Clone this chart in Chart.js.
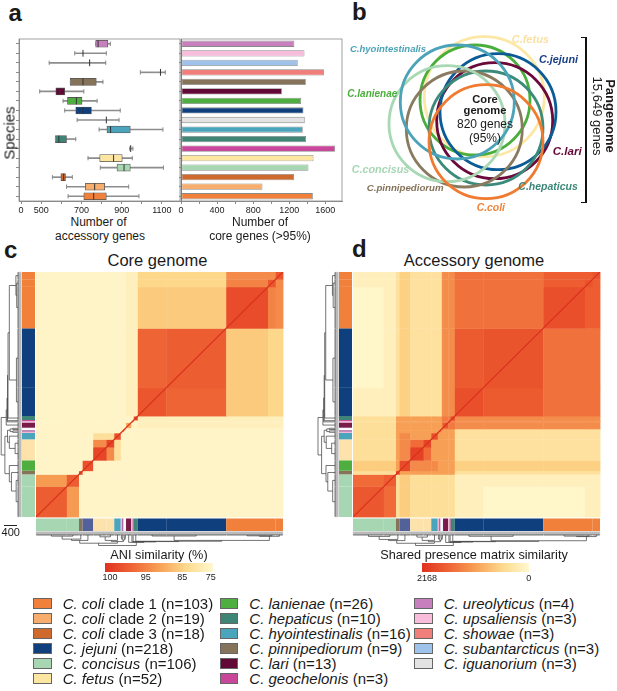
<!DOCTYPE html>
<html>
<head>
<meta charset="utf-8">
<title>Campylobacter pangenome</title>
<script src="https://cdn.jsdelivr.net/npm/chart.js@4.4.1/dist/chart.umd.min.js"></script>
<style>
  html, body { margin: 0; padding: 0; }
  body { width: 617px; height: 691px; position: relative; overflow: hidden; background: #fff;
         font-family: "Liberation Sans", Arial, sans-serif; color: #1a1a1a; }
  .pane { position: absolute; }
  .t { position: absolute; white-space: nowrap; line-height: 1; transform: translate(-50%, -50%); }
  .letter { position: absolute; font-weight: bold; font-size: 24px; line-height: 1; }
  .sp { position: absolute; font-weight: bold; font-style: italic; font-size: 10.3px; line-height: 1;
        white-space: nowrap; transform: translateY(-50%); }
  .leg { position: absolute; font-size: 15px; line-height: 1; white-space: nowrap; transform: translateY(-50%); }
  .sw { position: absolute; width: 16.3px; height: 9.7px; border: 1px solid #666; }
  .cbar { position: absolute; height: 9px; }
</style>
</head>
<body>

<div class="letter" style="left:8.5px;top:0.5px">a</div>
<div class="letter" style="left:352px;top:-0.5px">b</div>
<div class="letter" style="left:4px;top:238px">c</div>
<div class="letter" style="left:352px;top:236.5px">d</div>

<!-- panel a -->
<div class="pane" style="left:0;top:30px;width:181px;height:185px"><canvas id="accBox" width="181" height="185"></canvas></div>
<div class="pane" style="left:170px;top:30px;width:180px;height:185px"><canvas id="coreBars" width="180" height="185"></canvas></div>
<div class="t" style="left:9.2px;top:133px;font-size:15px;transform:translate(-50%,-50%) rotate(-90deg)">Species</div>
<div class="t" style="left:98.5px;top:222.3px;font-size:12px">Number of</div>
<div class="t" style="left:100px;top:235.8px;font-size:12px">accessory genes</div>
<div class="t" style="left:260px;top:222.3px;font-size:12px">Number of</div>
<div class="t" style="left:260px;top:235.8px;font-size:12px">core genes (&gt;95%)</div>

<!-- panel b -->
<div class="pane" style="left:340px;top:25px;width:250px;height:190px"><canvas id="venn" width="250" height="190"></canvas></div>
<div class="sp" style="left:350px;top:49.3px;font-size:9.5px;color:#4aa3b8">C.hyointestinalis</div>
<div class="sp" style="left:511.7px;top:39px;font-size:11px;color:#fbe0a0">C.fetus</div>
<div class="sp" style="left:539px;top:59px;font-size:10.8px;color:#163f86">C.jejuni</div>
<div class="sp" style="left:347.3px;top:94.3px;font-size:10px;color:#4aae3c">C.lanienae</div>
<div class="sp" style="left:552.7px;top:151px;font-size:11.6px;color:#650838">C.lari</div>
<div class="sp" style="left:351.7px;top:169.3px;font-size:10.8px;color:#a6d6b4">C.concisus</div>
<div class="sp" style="left:366.7px;top:188.3px;font-size:9.7px;color:#857358">C.pinnipediorum</div>
<div class="sp" style="left:518.3px;top:186.3px;font-size:10.5px;color:#3d8878">C.hepaticus</div>
<div class="sp" style="left:476.7px;top:207.7px;font-size:10.4px;color:#f0823a">C.coli</div>
<div class="t" style="left:485px;top:100px;font-size:11.2px;font-weight:bold">Core</div>
<div class="t" style="left:485px;top:110.8px;font-size:11.2px;font-weight:bold">genome</div>
<div class="t" style="left:485px;top:124.3px;font-size:12px">820 genes</div>
<div class="t" style="left:485px;top:138.3px;font-size:12px">(95%)</div>
<div class="pane" style="left:581px;top:37px;width:4px;height:164px;border:1.5px solid #111;border-left:none;border-right-width:2px"></div>
<div class="t" style="left:603px;top:116px;font-size:13px;line-height:12.5px;text-align:center;transform:translate(-50%,-50%) rotate(90deg)"><b>Pangenome</b><br>15,649 genes</div>

<!-- panels c, d -->
<div class="t" style="left:157.5px;top:260px;font-size:16.5px">Core genome</div>
<div class="t" style="left:474px;top:260px;font-size:16.5px">Accessory genome</div>
<div class="pane" style="left:0;top:265px;width:300px;height:290px"><canvas id="coreHeat" width="300" height="290"></canvas></div>
<div class="pane" style="left:300px;top:265px;width:317px;height:290px"><canvas id="accHeat" width="317" height="290"></canvas></div>
<div class="pane" style="left:4px;top:524.5px;width:12.7px;height:0;border-top:1.2px solid #222"></div>
<div class="t" style="left:10.8px;top:532px;font-size:11px">400</div>
<div class="t" style="left:159px;top:555px;font-size:12.7px">ANI similarity (%)</div>
<div class="t" style="left:474px;top:555px;font-size:12.7px">Shared presence matrix similarity</div>
<div class="cbar" id="aniBar" style="left:105px;top:562.7px;width:107.7px"></div>
<div class="cbar" id="sharedBar" style="left:422px;top:563px;width:106.7px"></div>
<div id="legend"></div>

<script>
// ---- panel a: per-species values, rows listed top to bottom ----
const species = ["C. ureolyticus", "C. upsaliensis", "C. subantarcticus", "C. showae", "C. pinnipediorum",
  "C. lari", "C. lanienae", "C. jejuni", "C. iguanorium", "C. hyointestinalis", "C. hepaticus",
  "C. geochelonis", "C. fetus", "C. concisus", "C. coli clade 3", "C. coli clade 2", "C. coli clade 1"];
const speciesColors = ["#c87fbd", "#f7bddb", "#9fc2ea", "#f07f7c", "#85735a", "#620836", "#4eae3f",
  "#0f3f7c", "#e3e3e3", "#4aa4bb", "#3e8575", "#c8479a", "#fde6a2", "#a6d7b2", "#cf6a2f", "#f6ad6e", "#f0803a"];
const coreGenes = [1257, 1369, 1294, 1585, 1384, 1119, 1331, 1358, 1372, 1350, 1387, 1708, 1469, 1413, 1253, 903, 1462];
const accMin    = [771, 667, 540, 993, 645, 493, 609, 617, 679, 788, 571, 940, 733, 794, 556, 626, 634];
const accQ1     = [771, null, null, null, 645, 573, 631, 672, null, 827, 571, null, 791, 877, 598, 720, 712];
const accMedian = [783, 708, 741, 1093, 708, 590, 675, 708, 824, 845, 588, 945, 860, 912, 612, 766, 761];
const accQ3     = [832, null, null, null, 774, 617, 703, 750, null, 943, 626, null, 903, 943, 621, 816, 824];
const accMax    = [844, 824, 821, 1117, 807, 712, 778, 893, 887, 1105, 672, 956, 953, 1108, 655, 935, 986];
const accTickValues = [400, 500, 600, 700, 800, 900, 1000, 1100];
const accTickText   = ["0", "500", "", "700", "", "900", "", "1100"];
const coreTickValues = [0, 200, 400, 600, 800, 1000, 1200, 1400, 1600];
const coreTickText   = ["0", "", "400", "", "800", "", "1200", "", "1600"];

// ---- panel b: circles (diagram units) ----
const vennNames  = ["C. fetus", "C. lanienae", "C. lari", "C. jejuni", "C. hepaticus", "C. pinnipediorum", "C. concisus", "C. hyointestinalis", "C. coli"];
const vennX      = [144.3, 135, 154.7, 158, 146, 124.3, 107, 117.3, 146];
const vennY      = [71.7, 75, 95.7, 86.7, 103, 104, 98.7, 77, 116.7];
const vennR      = [60, 55, 58, 58, 57, 58, 58, 57, 57];
const vennColors = ["#fde7a4", "#4aae3c", "#6b0a3a", "#0b5c96", "#3c8a7a", "#8a7a60", "#a8d8b4", "#4aa3b8", "#f07a30"];

// ---- panels c, d: genome groups in dendrogram order ----
const groupNames = ["concisus A", "concisus B", "pinnipediorum", "lanienae", "fetus A", "fetus B", "hyointestinalis",
  "upsaliensis", "ureolyticus", "iguanorium", "subantarcticus", "lari", "showae", "geochelonis", "hepaticus",
  "jejuni A", "jejuni B", "coli clade 1", "coli clade 2", "coli clade 3"];
const groupSizes = [76, 30, 9, 26, 33, 19, 16, 3, 4, 3, 3, 13, 3, 3, 10, 70, 148, 103, 19, 18];
const groupColors = ["#a6d7b2", "#a6d7b2", "#85735a", "#4eae3f", "#fde2ab", "#fde2ab", "#4aa4bb", "#f3b3d3",
  "#b06aa8", "#ffffff", "#eef4fb", "#7a1a48", "#f7c6dc", "#c8479a", "#3e8575", "#0f3f7c", "#0f3f7c", "#f0803a", "#f0803a", "#f0803a"];
const bottomGroupColors = groupColors.map((c, i) => (i === 3 ? "#53619a" : c));

// core ANI (%) per group pair: base, then [row0,row1,col0,col1,value] blocks, then diagonal
const coreBase = 75.5;
const coreBlocks = [
  [11, 14, 15, 19, 77], [15, 16, 17, 17, 86], [15, 16, 18, 19, 84], [15, 16, 15, 16, 97],
  [17, 19, 17, 19, 94], [17, 17, 18, 18, 95], [0, 1, 0, 1, 92], [4, 5, 4, 5, 94], [4, 5, 6, 6, 82]
];
const coreDiag = [97.5, 97.5, 99, 98.5, 99.3, 99.3, 98.5, 99, 99, 99, 99, 91, 99, 99, 99, 98, 97.5, 98.8, 98, 98];
// shared accessory genes per group pair
const accBase = 160;
const accBlocks = [
  [0, 1, 2, 14, 455], [0, 1, 3, 3, 700], [0, 0, 16, 17, 40], [2, 14, 2, 14, 1140], [2, 9, 15, 19, 420],
  [3, 3, 15, 19, 650], [10, 14, 15, 19, 1320], [10, 14, 10, 14, 1500], [4, 5, 4, 5, 1650], [3, 3, 4, 6, 1350],
  [15, 19, 15, 19, 1590], [15, 16, 15, 16, 1820], [17, 19, 17, 19, 1800], [0, 1, 0, 1, 1650]
];
const accDiag = [1850, 1800, 2050, 2000, 2100, 2050, 1950, 2100, 2100, 2100, 2100, 1900, 2100, 2100, 2000, 1950, 1900, 1950, 1900, 1900];
// dendrograms: [childA, childB, height]; leaves are groups 0..19, new nodes numbered from 20
const coreTree = [[0, 1, 70], [20, 2, 250], [21, 3, 330], [4, 5, 110], [23, 6, 330], [7, 8, 200], [9, 10, 200],
  [25, 26, 300], [24, 27, 400], [22, 28, 500], [15, 16, 60], [17, 18, 50], [31, 19, 80], [30, 32, 330],
  [14, 33, 380], [13, 34, 400], [12, 35, 420], [11, 36, 450], [29, 37, 640]];
const accTree = [[0, 1, 90], [20, 2, 280], [21, 3, 350], [4, 5, 130], [23, 6, 340], [7, 8, 220], [9, 10, 220],
  [25, 26, 320], [24, 27, 420], [22, 28, 520], [15, 16, 80], [17, 18, 70], [31, 19, 100], [30, 32, 360],
  [14, 33, 400], [13, 34, 420], [12, 35, 440], [11, 36, 470], [29, 37, 660]];

// colour scales
const rampStops = ["#e0321e", "#ef6535", "#f7a055", "#fdd98c", "#fff8cf"];
const aniTickValues = [100, 95, 85, 75];
const aniTickPos = [0.046, 0.378, 0.718, 0.982];
const sharedTickValues = [2168, 0];
const sharedTickPos = [0.047, 1.0];

// ---- legend ----
const legendItalic = ["C. coli", "C. coli", "C. coli", "C. jejuni", "C. concisus", "C. fetus",
  "C. lanienae", "C. hepaticus", "C. hyointestinalis", "C. pinnipediorum", "C. lari", "C. geochelonis",
  "C. ureolyticus", "C. upsaliensis", "C. showae", "C. subantarcticus", "C. iguanorium"];
const legendPlain = [" clade 1", " clade 2", " clade 3", "", "", "", "", "", "", "", "", "", "", "", "", "", ""];
const legendCounts = [103, 19, 18, 218, 106, 52, 26, 10, 16, 9, 13, 3, 4, 3, 3, 3, 3];
const legendColors = ["#f0803a", "#f6ad6e", "#cf6a2f", "#0f3f7c", "#a6d7b2", "#fde6a2",
  "#4eae3f", "#3e8575", "#4aa4bb", "#85735a", "#620836", "#c8479a",
  "#c87fbd", "#f7bddb", "#f07f7c", "#9fc2ea", "#e3e3e3"];

Chart.defaults.font.family = '"Liberation Sans", Arial, sans-serif';
Chart.defaults.animation = false;
Chart.defaults.responsive = false;
Chart.defaults.events = [];
Chart.defaults.layout.autoPadding = false;
Chart.defaults.plugins.legend.display = false;
Chart.defaults.plugins.tooltip.enabled = false;

const axisGrey = "#8a8a8a";

function framePlugin(color) {
  return {
    id: "frame",
    afterDraw(chart) {
      const { ctx, chartArea: a } = chart;
      ctx.save();
      ctx.strokeStyle = color;
      ctx.lineWidth = 0.8;
      ctx.strokeRect(a.left, a.top, a.right - a.left, a.bottom - a.top);
      ctx.restore();
    }
  };
}

// a, left: accessory genes box plot
new Chart(document.getElementById("accBox"), {
  type: "bar",
  data: {
    labels: species,
    datasets: [
      { label: "range", data: accMin.map((v, i) => [v, accMax[i]]), backgroundColor: "#8d8d8d",
        barThickness: 1, grouped: false, order: 4 },
      { label: "IQR", data: accQ1.map((v, i) => (v === null ? null : [v, accQ3[i]])), backgroundColor: speciesColors,
        borderColor: "#555", borderWidth: 0.8, borderSkipped: false, barThickness: 7, grouped: false, order: 3 },
      { type: "scatter", label: "caps", data: species.flatMap((s, i) => [{ x: accMin[i], y: s }, { x: accMax[i], y: s }]),
        pointStyle: "line", rotation: 90, pointRadius: 2.2, borderColor: "#8d8d8d", borderWidth: 1, order: 2 },
      { type: "scatter", label: "median", data: species.map((s, i) => ({ x: accMedian[i], y: s })),
        pointStyle: "line", rotation: 90, pointRadius: 3.4, borderColor: "#333", borderWidth: 1, order: 1 }
    ]
  },
  options: {
    indexAxis: "y",
    layout: { padding: { left: 0, right: 1, top: 9, bottom: 0 } },
    scales: {
      x: { type: "linear", min: 390, max: 1190,
        afterBuildTicks: s => { s.ticks = accTickValues.map(v => ({ value: v })); },
        afterFit: s => { s.height = 14; },
        ticks: { autoSkip: false, maxRotation: 0, padding: 1, color: "#222", font: { size: 9 },
          callback: (v, i) => accTickText[i] },
        grid: { drawOnChartArea: false, tickLength: 3, color: axisGrey },
        border: { color: axisGrey } },
      y: { type: "category", afterFit: s => { s.width = 19; },
        ticks: { display: false },
        grid: { offset: false, drawOnChartArea: false, tickLength: 3, color: axisGrey },
        border: { color: axisGrey } }
    }
  },
  plugins: [framePlugin(axisGrey)]
});

// a, right: core genes bars
new Chart(document.getElementById("coreBars"), {
  type: "bar",
  data: {
    labels: species,
    datasets: [{ data: coreGenes, backgroundColor: speciesColors, borderColor: "rgba(60,60,60,0.6)",
      borderWidth: 0.8, borderSkipped: false, barPercentage: 0.66, categoryPercentage: 1 }]
  },
  options: {
    indexAxis: "y",
    layout: { padding: { left: 0, right: 8, top: 9, bottom: 0 } },
    scales: {
      x: { type: "linear", min: 0, max: 1785,
        afterBuildTicks: s => { s.ticks = coreTickValues.map(v => ({ value: v })); },
        afterFit: s => { s.height = 14; },
        ticks: { autoSkip: false, maxRotation: 0, padding: 1, color: "#222", font: { size: 9 },
          callback: (v, i) => coreTickText[i] },
        grid: { drawOnChartArea: false, tickLength: 3, color: axisGrey },
        border: { color: axisGrey } },
      y: { afterFit: s => { s.width = 11; },
        ticks: { display: false },
        grid: { offset: false, drawOnChartArea: false, tickLength: 2, color: axisGrey },
        border: { color: "#777" } }
    }
  },
  plugins: [framePlugin(axisGrey)]
});

// b: overlapping genome circles
new Chart(document.getElementById("venn"), {
  type: "bubble",
  data: {
    datasets: [{
      label: "species",
      data: vennX.map((x, i) => ({ x, y: vennY[i], r: vennR[i] })),
      borderColor: vennColors,
      backgroundColor: "rgba(0,0,0,0)",
      borderWidth: 2.8,
      clip: false
    }]
  },
  options: {
    layout: { padding: 0, autoPadding: false },
    scales: {
      x: { display: false, min: 0, max: 250 },
      y: { display: false, min: 0, max: 190, reverse: true }
    }
  }
});

// ---- heatmaps ----
const groupStart = [];
let genomeTotal = 0;
groupSizes.forEach(n => { groupStart.push(genomeTotal); genomeTotal += n; });

function buildMatrix(base, blocks, diag) {
  const n = groupSizes.length;
  const m = Array.from({ length: n }, () => Array(n).fill(base));
  blocks.forEach(([r0, r1, c0, c1, v]) => {
    for (let i = r0; i <= r1; i++) for (let j = c0; j <= c1; j++) { m[i][j] = v; m[j][i] = v; }
  });
  diag.forEach((v, i) => { m[i][i] = v; });
  return m;
}

const rampRgb = rampStops.map(h => [1, 3, 5].map(k => parseInt(h.slice(k, k + 2), 16)));
function rampColor(t) {
  t = Math.min(1, Math.max(0, t));
  const f = t * (rampRgb.length - 1);
  const k = Math.min(Math.floor(f), rampRgb.length - 2);
  const u = f - k;
  const c = rampRgb[k].map((v, q) => Math.round(v + (rampRgb[k + 1][q] - v) * u));
  return `rgb(${c.join(",")})`;
}
function valueToPos(v, vals, pos) {
  let k = 0;
  while (k < vals.length - 2 && v < vals[k + 1]) k++;
  const u = (v - vals[k]) / (vals[k + 1] - vals[k]);
  return pos[k] + u * (pos[k + 1] - pos[k]);
}

function heatPlugin(matrix, toPos, tree, dendro) {
  return {
    id: "heat",
    beforeDatasetsDraw(chart) {
      const { ctx, chartArea: a, scales: { x, y } } = chart;
      const n = groupSizes.length;
      ctx.save();
      // cells
      for (let i = 0; i < n; i++) {
        const yTop = y.getPixelForValue(groupStart[i] + groupSizes[i]);
        const yBot = y.getPixelForValue(groupStart[i]);
        for (let j = 0; j < n; j++) {
          const x0 = x.getPixelForValue(groupStart[j]);
          const x1 = x.getPixelForValue(groupStart[j] + groupSizes[j]);
          ctx.fillStyle = rampColor(toPos(matrix[i][j]));
          ctx.fillRect(x0, yTop, x1 - x0 + 0.4, yBot - yTop + 0.4);
        }
      }
      // side and bottom colour bars
      for (let g = 0; g < n; g++) {
        const p0 = groupStart[g], p1 = groupStart[g] + groupSizes[g];
        ctx.fillStyle = groupColors[g];
        ctx.fillRect(a.left - 14, y.getPixelForValue(p1), 13, y.getPixelForValue(p0) - y.getPixelForValue(p1));
        ctx.fillStyle = bottomGroupColors[g];
        ctx.fillRect(x.getPixelForValue(p0), a.bottom + 1.5, x.getPixelForValue(p1) - x.getPixelForValue(p0), 12.5);
      }
      // dendrograms
      const leafX = a.left - 14.5, leafY = a.bottom + 14.5, comb = 3.5;
      const pos = groupSizes.map((s, g) => groupStart[g] + s / 2);
      const hgt = groupSizes.map(() => 0);
      tree.forEach(([p, q, h]) => { pos.push((pos[p] + pos[q]) / 2); hgt.push(h); });
      const left = (h, p) => [leafX - comb - h * dendro.kLeft, y.getPixelForValue(p)];
      const bottom = (h, p) => [x.getPixelForValue(p), leafY + comb + h * dendro.kBottom];
      ctx.strokeStyle = "rgba(30,30,30,0.28)";
      ctx.lineWidth = 0.5;
      ctx.beginPath();
      for (let k = 0; k < genomeTotal; k++) {
        const py = y.getPixelForValue(k + 0.5), px = x.getPixelForValue(k + 0.5);
        ctx.moveTo(leafX, py); ctx.lineTo(leafX - comb, py);
        ctx.moveTo(px, leafY); ctx.lineTo(px, leafY + comb);
      }
      ctx.stroke();
      ctx.strokeStyle = "#3a3a3a";
      ctx.lineWidth = 0.7;
      ctx.beginPath();
      for (let g = 0; g < n; g++) {
        const p0 = groupStart[g] + 0.5, p1 = groupStart[g] + groupSizes[g] - 0.5;
        [left, bottom].forEach(f => {
          const s = f(0, p0), e = f(0, p1);
          ctx.moveTo(s[0], s[1]); ctx.lineTo(e[0], e[1]);
        });
      }
      tree.forEach(([p, q, h]) => {
        [left, bottom].forEach(f => {
          const pts = [f(hgt[p], pos[p]), f(h, pos[p]), f(h, pos[q]), f(hgt[q], pos[q])];
          ctx.moveTo(pts[0][0], pts[0][1]);
          pts.slice(1).forEach(pt => ctx.lineTo(pt[0], pt[1]));
        });
      });
      ctx.stroke();
      ctx.restore();
    }
  };
}

function makeHeatmap(id, matrix, toPos, tree, dendro, padLeft) {
  new Chart(document.getElementById(id), {
    type: "scatter",
    data: {
      datasets: [{ label: "self", data: [{ x: 0, y: 0 }, { x: genomeTotal, y: genomeTotal }],
        showLine: true, borderColor: "#d9301c", borderWidth: 1.2, pointRadius: 0 }]
    },
    options: {
      layout: { padding: { left: padLeft, top: 7, right: 17, bottom: 38 }, autoPadding: false },
      scales: {
        x: { type: "linear", display: false, min: 0, max: genomeTotal },
        y: { type: "linear", display: false, min: 0, max: genomeTotal }
      }
    },
    plugins: [heatPlugin(matrix, toPos, tree, dendro)]
  });
}

makeHeatmap("coreHeat", buildMatrix(coreBase, coreBlocks, coreDiag),
  v => valueToPos(v, aniTickValues, aniTickPos), coreTree, { kLeft: 16.8 / 640, kBottom: 10.5 / 640 }, 36);
makeHeatmap("accHeat", buildMatrix(accBase, accBlocks, accDiag),
  v => valueToPos(v, sharedTickValues, sharedTickPos), accTree, { kLeft: 17 / 660, kBottom: 10.5 / 660 }, 53);

// colour bars and their labels
const gradient = `linear-gradient(to right, ${rampStops.join(", ")})`;
function colourBar(id, values, positions) {
  const bar = document.getElementById(id);
  bar.style.background = gradient;
  const left = parseFloat(bar.style.left), width = parseFloat(bar.style.width), top = parseFloat(bar.style.top);
  values.forEach((v, i) => {
    const d = document.createElement("div");
    d.className = "t";
    d.style.cssText = `left:${left + positions[i] * width}px;top:${top + 14.5}px;font-size:9px`;
    d.textContent = v;
    document.body.appendChild(d);
  });
}
colourBar("aniBar", aniTickValues, aniTickPos);
colourBar("sharedBar", sharedTickValues, sharedTickPos);

// legend: three columns
const legendCols = [{ sw: 33.3, tx: 62.7 }, { sw: 220, tx: 249.3 }, { sw: 414.3, tx: 443.7 }];
const legendEl = document.getElementById("legend");
legendItalic.forEach((name, i) => {
  const col = legendCols[Math.floor(i / 6)], row = i % 6;
  const cy = 603.3 + row * 15;
  const sw = document.createElement("div");
  sw.className = "sw";
  sw.style.cssText = `left:${col.sw}px;top:${cy - 5.8}px;background:${legendColors[i]}`;
  const tx = document.createElement("div");
  tx.className = "leg";
  tx.style.cssText = `left:${col.tx}px;top:${cy}px`;
  tx.innerHTML = `<i>${name}</i>${legendPlain[i]} (n=${legendCounts[i]})`;
  legendEl.appendChild(sw);
  legendEl.appendChild(tx);
});
</script>
</body>
</html>
